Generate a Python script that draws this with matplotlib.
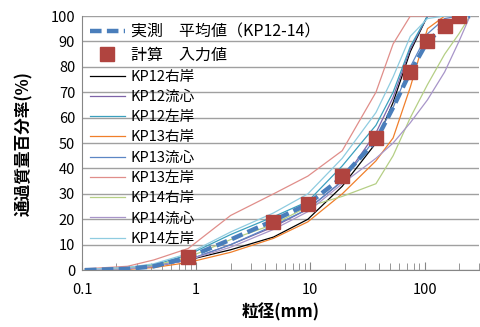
import matplotlib
matplotlib.use("Agg")
import matplotlib.pyplot as plt
from matplotlib.ticker import LogLocator, FixedLocator, FixedFormatter, NullFormatter

plt.rcParams["font.family"] = ["Noto Sans CJK JP", "DejaVu Sans"]

# ── Data ───────────────────────────────────────────────────────────────────────
sieve = [0.106, 0.25, 0.425, 0.85, 2, 4.75, 9.5, 19, 37.5, 53, 75, 106, 150, 200, 250]

avg_pass = [0, 0.5, 1.5, 5, 12, 19.5, 26, 36.5, 51, 64, 78, 90, 96, 99.5, 100]

calc_size = [0.85, 4.75, 9.5, 19, 37.5, 75, 106, 150, 200]
calc_pass = [5, 19, 26, 37, 52, 78, 90, 96, 100]

series_names = ["KP12右岸", "KP12流心", "KP12左岸",
                "KP13右岸", "KP13流心", "KP13左岸",
                "KP14右岸", "KP14流心", "KP14左岸"]
series_colors = ["#000000", "#7F63A8", "#3BA0BE",
                 "#F07F2A", "#5C86C4", "#E08E8A",
                 "#B5CF85", "#A895C9", "#8FCCE0"]
kp12_r = [0, 0.5, 1.5, 4, 8, 13, 20, 33, 50, 66, 86, 100, 100, 100, 100]
kp12_c = [0.2, 0.5, 1.5, 4, 10, 17, 24, 35, 54, 68, 87, 100, 100, 100, 100]
kp12_l = [0.3, 1, 2, 6, 14, 21, 27, 41, 57, 70, 88, 100, 100, 100, 100]
kp13_r = [0, 0.3, 1, 3, 7, 12.5, 19, 30, 43, 52, 72, 95, 100, 100, 100]
kp13_c = [0, 0.5, 1.5, 4, 10, 17.5, 24, 35, 52, 64, 80, 93, 99, 100, 100]
kp13_l = [0.5, 1.5, 4, 8.5, 21.5, 30, 37, 47, 70, 89, 100, 100, 100, 100, 100]
kp14_r = [0.2, 0.6, 1.8, 5, 12, 18, 25, 29, 34, 45, 60, 73, 85, 93, 100]
kp14_c = [0.2, 0.5, 1.5, 4, 9, 16, 23, 34, 44, 50, 58, 67, 78, 90, 100]
kp14_l = [0.3, 1, 2.5, 6.5, 15, 22.5, 30, 44, 62, 76, 92, 99, 100, 100, 100]
series_vals = [kp12_r, kp12_c, kp12_l, kp13_r, kp13_c, kp13_l, kp14_r, kp14_c, kp14_l]

# ── Plot ───────────────────────────────────────────────────────────────────────
fig = plt.figure(figsize=(4.8, 3.27), dpi=100)
ax = fig.add_axes([0.171, 0.174, 0.827, 0.777])

for name, col, vals in zip(series_names, series_colors, series_vals):
    ax.plot(sieve, vals, color=col, lw=0.9, label=name, zorder=3)

ax.plot(sieve, avg_pass, color="#4A7EBB", lw=3.2, ls=(0, (2.6, 1.2)),
        label="実測\u3000平均値（KP12-14）", zorder=4)
ax.plot(calc_size, calc_pass, ls="none", marker="s", ms=10, color="#B0443F",
        label="計算\u3000入力値", zorder=5)

ax.set_xscale("log")
ax.set_xlim(0.1, 300)
ax.set_ylim(0, 100)
ax.set_yticks(range(0, 101, 10))
ax.xaxis.set_major_locator(FixedLocator([0.1, 1, 10, 100]))
ax.xaxis.set_major_formatter(FixedFormatter(["0.1", "1", "10", "100"]))
ax.xaxis.set_minor_locator(LogLocator(base=10, subs=range(2, 10)))
ax.xaxis.set_minor_formatter(NullFormatter())
ax.tick_params(axis="x", which="both", direction="in", colors="#868686",
               labelcolor="black", labelsize=10.5, pad=9)
ax.tick_params(axis="x", which="major", length=6)
ax.tick_params(axis="x", which="minor", length=5)
ax.tick_params(axis="y", length=0, labelsize=10.5, pad=5)

ax.grid(axis="y", color="#A0A0A0", lw=1)
ax.set_axisbelow(True)
for s in ["top", "right"]:
    ax.spines[s].set_visible(False)
for s in ["left", "bottom"]:
    ax.spines[s].set_color("#868686")

ax.set_xlabel("粒径(mm)", fontsize=12, fontweight="bold")
ax.set_ylabel("通過質量百分率(%)", fontsize=12, fontweight="bold")
ax.xaxis.set_label_coords(0.5, -0.13)
ax.yaxis.set_label_coords(-0.122, 0.5)

h, l = ax.get_legend_handles_labels()
order = [9, 10] + list(range(9))
leg = ax.legend([h[i] for i in order], [l[i] for i in order],
                loc="upper left", bbox_to_anchor=(0.005, 0.995), frameon=False,
                fontsize=10.5, handlelength=2.4, handletextpad=0.4,
                labelspacing=0.43, borderaxespad=0)
for t in leg.get_texts()[:2]:
    t.set_fontsize(11.5)

fig.savefig("out.png", dpi=100)
